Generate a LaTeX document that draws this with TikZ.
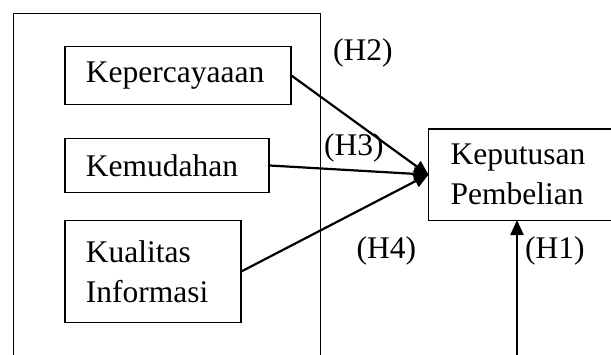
\documentclass[tikz,border=0pt]{standalone}
\usepackage{fontspec}
\setmainfont{Liberation Serif}
\usetikzlibrary{arrows.meta}
\begin{document}
\begin{tikzpicture}[x=1pt,y=-1pt,
  box/.style={draw,line width=1.3pt,rectangle,anchor=north west,inner ysep=0pt,inner xsep=21pt,align=left,font=\fontsize{31.5}{40}\selectfont},
  lbl/.style={anchor=base west,inner sep=0pt,font=\fontsize{31.5}{40}\selectfont},
  conn/.style={line width=2.2pt,-{Triangle[length=15pt,width=13pt]},shorten >=-1pt}]
\useasboundingbox (0,0) rectangle (611,354);
\node[draw,line width=1.3pt,rectangle,anchor=north west,minimum width=307pt,minimum height=360pt,inner sep=0pt] (frame) at (13,12.5) {};
\node[box,minimum width=226pt,minimum height=58pt,text width=184pt] (kep) at (64.3,46) {Kepercayaaan};
\node[box,minimum width=204pt,minimum height=54.3pt,text width=162pt] (kem) at (64.3,137.7) {Kemudahan};
\node[box,minimum width=176pt,minimum height=102pt,text width=134pt] (kua) at (64.3,219.7) {Kualitas\\Informasi};
\node[box,minimum width=200pt,minimum height=91.4pt,text width=175pt,inner xsep=22pt] (kp) at (428,128.3) {Keputusan\\Pembelian};
\node[lbl] (h2) at (333,60) {(H2)};
\node[lbl] (h3) at (324,155) {(H3)};
\node[lbl] (h4) at (356.5,258) {(H4)};
\node[lbl] (h1) at (525,258) {(H1)};
\coordinate (h1s) at (517,360);
\draw[conn] (kep.east) -- (kp.west);
\draw[conn] (kem.east) -- (kp.west);
\draw[conn] (kua.east) -- (kp.west);
\draw[conn] (h1s) -- (h1s |- kp.south);
\end{tikzpicture}
\end{document}
